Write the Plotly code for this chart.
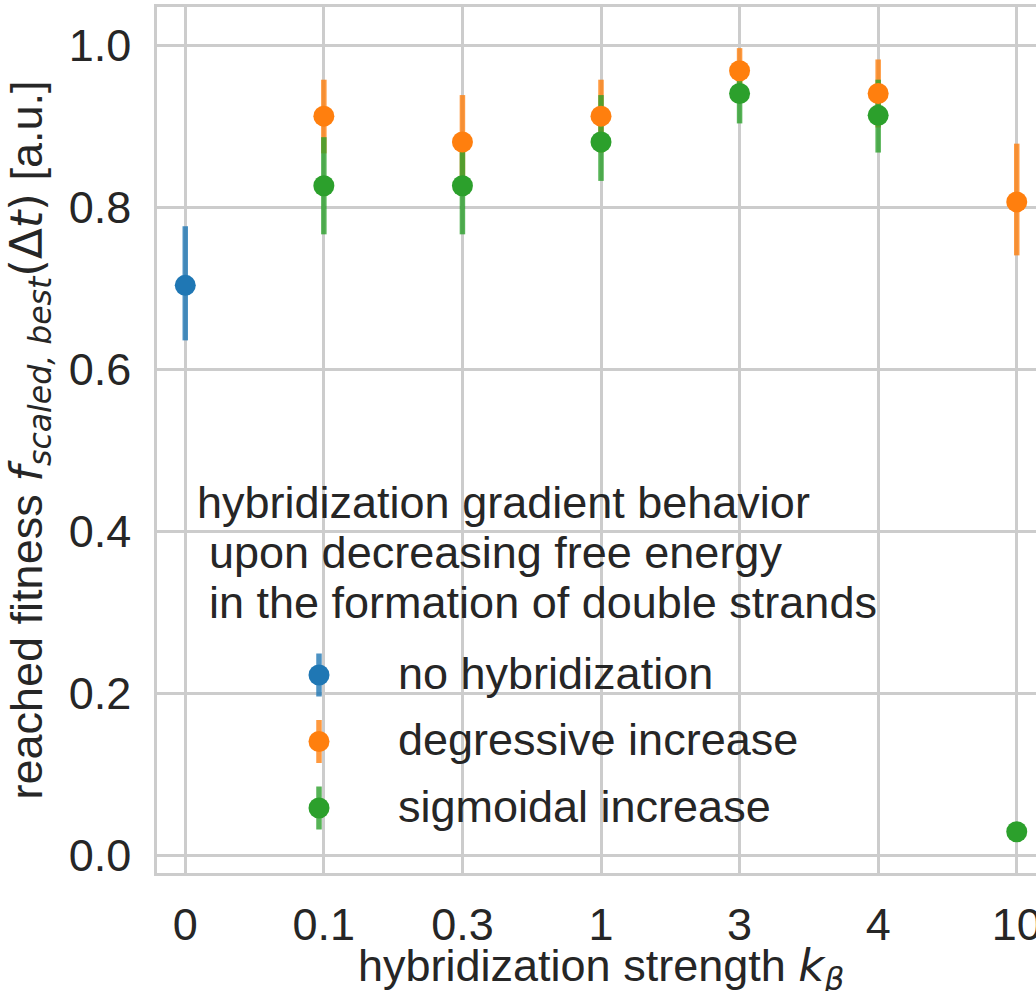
import plotly.graph_objects as go

# hybridization strength categories (k_beta)
categories = ["0", "0.1", "0.3", "1", "3", "4", "10"]

# no hybridization: only measured at k_beta = 0
none_x = ["0"]
none_y = [0.704]
none_err_plus = [0.073]
none_err_minus = [0.068]

# degressive increase
degr_x = ["0.1", "0.3", "1", "3", "4", "10"]
degr_y = [0.913, 0.881, 0.913, 0.969, 0.941, 0.807]
degr_err_plus = [0.045, 0.058, 0.045, 0.028, 0.042, 0.072]
degr_err_minus = [0.046, 0.058, 0.045, 0.028, 0.042, 0.066]

# sigmoidal increase
sigm_x = ["0.1", "0.3", "1", "3", "4", "10"]
sigm_y = [0.827, 0.827, 0.881, 0.941, 0.914, 0.029]
sigm_err_plus = [0.060, 0.060, 0.058, 0.037, 0.044, 0.0]
sigm_err_minus = [0.060, 0.060, 0.048, 0.037, 0.046, 0.0]

series_names = ["no hybridization", "degressive increase", "sigmoidal increase"]
legend_title_lines = [
    "hybridization gradient behavior",
    " upon decreasing free energy",
    " in the formation of double strands",
]

COLORS = ["#1f77b4", "#ff7f0e", "#2ca02c"]
BAR_COLORS = ["rgba(31,119,180,0.8)", "rgba(255,127,14,0.8)", "rgba(44,160,44,0.8)"]
TEXT = "#262626"
GRID = "#cccccc"
FONT = "Liberation Sans, Arial, sans-serif"
FS = 45

W, H = 1036, 991
ML, MR, MT, MB = 157, 0, 7, 118
PW, PH = W - ML - MR, H - MT - MB

series = [
    (none_x, none_y, none_err_plus, none_err_minus),
    (degr_x, degr_y, degr_err_plus, degr_err_minus),
    (sigm_x, sigm_y, sigm_err_plus, sigm_err_minus),
]

fig = go.Figure()

# error bars first, so every marker sits on top of every bar
for i, (xs, ys, ep, em) in enumerate(series):
    fig.add_trace(go.Scatter(
        x=xs, y=ys, mode="markers",
        marker=dict(size=1, opacity=0),
        error_y=dict(type="data", array=ep, arrayminus=em, symmetric=False,
                     color=BAR_COLORS[i], thickness=5.5, width=0),
        showlegend=False, hoverinfo="skip",
    ))

for i, (xs, ys, ep, em) in enumerate(series):
    fig.add_trace(go.Scatter(
        x=xs, y=ys, mode="markers", name=series_names[i],
        marker=dict(size=21, color=COLORS[i], line=dict(width=0)),
        showlegend=False,
    ))


def px_x(p):
    return (p - ML) / PW


def px_y(p):
    return (MT + PH - p) / PH


# legend block: title lines, then one key per series
title_left = [195, 207, 207]
title_mid = [502, 552, 602]
for line, xl, ym in zip(legend_title_lines, title_left, title_mid):
    fig.add_annotation(
        text=line.strip(), x=px_x(xl), y=px_y(ym), xref="paper", yref="paper",
        xanchor="left", yanchor="middle", showarrow=False,
        font=dict(family=FONT, size=FS, color=TEXT),
    )

key_x = 319
text_x = 396
row_y = [675, 741.5, 808]
for i, (name, ry) in enumerate(zip(series_names, row_y)):
    fig.add_shape(type="line", xref="paper", yref="paper",
                  xsizemode="pixel", ysizemode="pixel",
                  xanchor=px_x(key_x), yanchor=px_y(ry),
                  x0=0, x1=0, y0=-21.5, y1=21.5,
                  line=dict(color=BAR_COLORS[i], width=5.5))
    fig.add_shape(type="circle", xref="paper", yref="paper",
                  xsizemode="pixel", ysizemode="pixel",
                  xanchor=px_x(key_x), yanchor=px_y(ry),
                  x0=-10.5, x1=10.5, y0=-10.5, y1=10.5,
                  fillcolor=COLORS[i], line=dict(width=0))
    fig.add_annotation(
        text=name, x=px_x(text_x), y=px_y(ry - 2), xref="paper", yref="paper",
        xanchor="left", yanchor="middle", showarrow=False,
        font=dict(family=FONT, size=FS, color=TEXT),
    )

m = "font-family:'DejaVu Sans'"
y_title = ("reached fitness "
           f"<span style=\"{m}\"><i>f</i><sub><i>scaled, best</i></sub>(Δ<i>t</i>)</span>"
           " [a.u.]")
x_title = f"hybridization strength <span style=\"{m}\"><i>k</i><sub><i>β</i></sub></span>"

# x-axis title, centred under the axes
fig.add_annotation(
    text=x_title, x=px_x(601), y=px_y(968), xref="paper", yref="paper",
    xanchor="center", yanchor="middle", showarrow=False,
    font=dict(family=FONT, size=FS, color=TEXT),
)

fig.update_layout(
    width=W, height=H,
    margin=dict(l=ML, r=MR, t=MT, b=MB, pad=0, autoexpand=False),
    paper_bgcolor="white", plot_bgcolor="white",
    font=dict(family=FONT, size=FS, color=TEXT),
    showlegend=False,
    xaxis=dict(
        type="category", categoryorder="array", categoryarray=categories,
        range=[-0.204, 6.139], automargin=False,
        showgrid=True, gridcolor=GRID, gridwidth=2.5,
        showline=True, mirror=True, linecolor=GRID, linewidth=2.5,
        ticks="outside", ticklen=10, tickcolor="rgba(0,0,0,0)",
        tickfont=dict(family=FONT, size=FS, color=TEXT),
        zeroline=False,
    ),
    yaxis=dict(
        range=[-0.0219, 1.0478], automargin=False,
        tickvals=[0.0, 0.2, 0.4, 0.6, 0.8, 1.0],
        ticktext=["0.0", "0.2", "0.4", "0.6", "0.8", "1.0"],
        showgrid=True, gridcolor=GRID, gridwidth=2.5,
        showline=True, mirror=False, linecolor=GRID, linewidth=2.5,
        ticks="outside", ticklen=14, tickcolor="rgba(0,0,0,0)",
        tickfont=dict(family=FONT, size=FS, color=TEXT),
        title=dict(text=y_title, font=dict(family=FONT, size=FS, color=TEXT)),
        zeroline=False,
    ),
)

fig.write_html("out.html")
